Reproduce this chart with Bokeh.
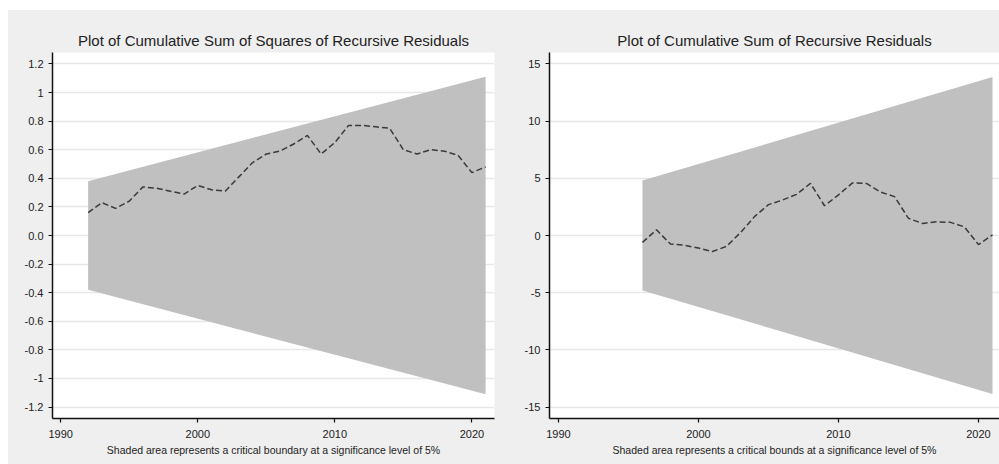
from bokeh.plotting import figure
from bokeh.layouts import row
from bokeh.models import FixedTicker, Range1d
from bokeh.embed import file_html
from bokeh.resources import INLINE

FONT = "Liberation Sans"

# ---- data: CUSUM of squares ----
sq_years = list(range(1992, 2022))
sq_values = [0.16, 0.23, 0.19, 0.24, 0.34, 0.33, 0.31, 0.29, 0.35, 0.32,
             0.31, 0.41, 0.51, 0.57, 0.59, 0.64, 0.70, 0.57, 0.65, 0.77,
             0.77, 0.76, 0.75, 0.60, 0.57, 0.60, 0.59, 0.56, 0.44, 0.48]
sq_bound_years = [1992, 2021]
sq_upper = [0.38, 1.11]
sq_lower = [-0.38, -1.11]
sq_ticks = [-1.2, -1.0, -0.8, -0.6, -0.4, -0.2, 0.0, 0.2, 0.4, 0.6, 0.8, 1.0, 1.2]
sq_tick_labels = ["-1.2", "-1", "-0.8", "-0.6", "-0.4", "-0.2", "0.0",
                  "0.2", "0.4", "0.6", "0.8", "1", "1.2"]

# ---- data: CUSUM ----
cs_years = list(range(1996, 2022))
cs_values = [-0.6, 0.5, -0.75, -0.85, -1.1, -1.4, -0.95, 0.25, 1.65, 2.7,
             3.1, 3.6, 4.55, 2.6, 3.55, 4.6, 4.55, 3.8, 3.4, 1.5,
             1.05, 1.2, 1.15, 0.75, -0.8, 0.05]
cs_bound_years = [1996, 2021]
cs_upper = [4.8, 13.85]
cs_lower = [-4.8, -13.85]
cs_ticks = [-15, -10, -5, 0, 5, 10, 15]
cs_tick_labels = ["-15", "-10", "-5", "0", "5", "10", "15"]

x_ticks = [1990, 2000, 2010, 2020]
x_tick_labels = ["1990", "2000", "2010", "2020"]

titles = ["Plot of Cumulative Sum of Squares of Recursive Residuals",
          "Plot of Cumulative Sum of Recursive Residuals"]
captions = ["Shaded area represents a critical boundary at a significance level of 5%",
            "Shaded area represents a critical bounds at a significance level of 5%"]

BG = "#efefef"


def make_panel(title, caption, years, values, byears, upper, lower,
               yticks, ylabels, ylim, xlim, width, frame_w,
               border_left, border_right):
    p = figure(width=width, height=454, frame_width=frame_w, frame_height=366,
               min_border_left=border_left, min_border_right=border_right,
               min_border_top=42, min_border_bottom=46,
               x_range=Range1d(*xlim), y_range=Range1d(-ylim, ylim),
               output_backend="svg", toolbar_location=None, title=title)
    p.background_fill_color = "white"
    p.border_fill_color = BG
    p.outline_line_color = None

    p.varea(x=byears, y1=lower, y2=upper, fill_color="#c0c0c0", fill_alpha=1.0)
    p.line(x=years, y=values, line_color="#3a3a3a", line_width=1.5,
           line_dash="6 3")

    p.title.align = "center"
    p.title.text_font = FONT
    p.title.text_font_size = "15px"
    p.title.text_font_style = "normal"
    p.title.text_color = "#222222"
    p.title.standoff = 7

    p.xgrid.grid_line_color = None
    p.ygrid.grid_line_color = "#e8e8e8"
    p.ygrid.grid_line_width = 1.5

    p.xaxis.ticker = FixedTicker(ticks=x_ticks)
    p.xaxis.major_label_overrides = dict(zip(x_ticks, x_tick_labels))
    p.yaxis.ticker = FixedTicker(ticks=yticks)
    p.yaxis.major_label_overrides = dict(zip(yticks, ylabels))

    for ax in (p.xaxis[0], p.yaxis[0]):
        ax.axis_line_color = "#111111"
        ax.axis_line_width = 1.5
        ax.major_tick_line_color = "#111111"
        ax.major_tick_line_width = 1.2
        ax.major_tick_in = 0
        ax.major_tick_out = 4
        ax.minor_tick_line_color = None
        ax.major_label_text_font = FONT
        ax.major_label_text_font_size = "11px"
        ax.major_label_text_color = "#222222"
        ax.major_label_standoff = 5
    p.xaxis.major_label_standoff = 7

    p.xaxis.axis_label = caption
    p.xaxis.axis_label_text_font = FONT
    p.xaxis.axis_label_text_font_size = "10.5px"
    p.xaxis.axis_label_text_font_style = "normal"
    p.xaxis.axis_label_text_color = "#222222"
    p.xaxis.axis_label_standoff = 3
    return p


p1 = make_panel(titles[0], captions[0], sq_years, sq_values, sq_bound_years,
                sq_upper, sq_lower, sq_ticks, sq_tick_labels, 1.28,
                (1989.4, 2021.65), 513, 442, 44, 27)
p2 = make_panel(titles[1], captions[1], cs_years, cs_values, cs_bound_years,
                cs_upper, cs_lower, cs_ticks, cs_tick_labels, 16.0,
                (1989.36, 2021.5), 478, 450, 28, 0)

layout = row(p1, p2, spacing=0)
layout.styles = {"background-color": BG, "margin-left": "8px", "margin-top": "10px"}

open("out.html", "w").write(file_html(layout, INLINE))
